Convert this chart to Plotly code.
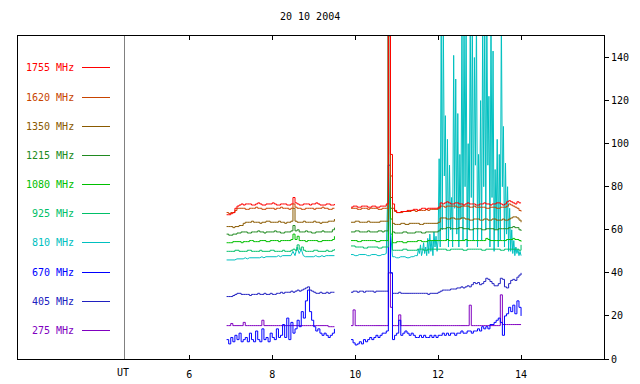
import plotly.graph_objects as go

# ---------------- data ----------------
TITLE = "20 10 2004"
X_TICKS = [6, 8, 10, 12, 14]
Y_TICKS = [0, 20, 40, 60, 80, 100, 120, 140]

def grid(a, b, step):
    n = int(round((b - a) / step))
    return [round(a + i * step, 3) for i in range(n + 1)]

T1 = grid(6.90, 9.50, 0.05)      # first observing block (UT hours)
T2 = grid(9.90, 14.00, 0.05)     # second observing block
T2_CYAN_A = T2[:32]              # 9.90 .. 11.45
T2_CYAN_B = grid(11.50, 14.00, 0.025)

labels = ["1755 MHz", "1620 MHz", "1350 MHz", "1215 MHz", "1080 MHz",
          "925 MHz", "810 MHz", "670 MHz", "405 MHz", "275 MHz"]
colors = ["#ff0000", "#c84400", "#8a5a00", "#208a20", "#00c000",
          "#00c068", "#00c0c0", "#0000ff", "#2020c0", "#8000c0"]

f1755_a = [67,67,67.5,68,70,71,71.5,72,71.5,72,
           72,72,71.5,71.5,72,72.5,72,71.5,71.5,72,
           72,72,72.5,72,71.5,71.5,72,72,72,71.5,
           71.5,72,75,72.5,72,71.5,71.5,72,72,72,
           71.5,72,72,72.5,72,71.5,71.5,71.5,72,72,
           71.5,71.5,72]
f1755_b = [70.5,71,71,70.5,70.5,71,71,71,70.5,70.5,
           71,71,70.5,70.5,71,71,71,72,
           300,95,
           72,69,68,68,68.5,68.5,68.5,69,69,69,
           69.5,69.5,69,69.5,70,70,69.5,70,70,70,
           70,70,70.5,
           72.5,72,72.5,73,72.5,72,72,
           72.5,72.5,72,72,71.5,72,72.5,72,72,72,
           71.5,71.5,72,72,72.5,72,72,71.5,72,72,
           72.5,72.5,72,71.5,72,73,73.5,73,72.5,72,
           73,72.5,72.5]

f1620_a = [68,67.5,68,68,69,70,70,70,70,69.5,
           69.5,70,70,70,70.5,70,70,69.5,69.5,70,
           70,70,70,69.5,70,70,70.5,70,70,70,
           69.5,70,72,70.5,70,70,69.5,69.5,70,70,
           70,70,69.5,70,70,70,70.5,70,70,69.5,
           69.5,70,70]
f1620_b = [70,70,70,69.5,69.5,70,70,70,69.5,70,
           70,70,70,69.5,69.5,70,70,70,
           300,85,
           70,68.5,68,68,68,68.5,68.5,68.5,68.5,69,
           69,68.5,69,69,69,69,69.5,69,69.5,69.5,
           69.5,69.5,70,
           71,71,70.5,71,71,71,71,
           71,70.5,70.5,71,71,71,71,70.5,70.5,71,
           70.5,70.5,70.5,70.5,70.5,70,70,70.5,70.5,70.5,
           70,70,70.5,70.5,70.5,71,72,71.5,71,70.5,
           70,69,68.5]

f1350_a = [61.5,61.5,61.5,61,61.5,61.5,62,62,63,63.5,
           63.5,63.5,64,63.5,63.5,63.5,63,63.5,63.5,64,
           64,63.5,63.5,63.5,63.5,64,63.5,63.5,63,63.5,
           63.5,64,70,64,63.5,63.5,63.5,64,63.5,63.5,
           63.5,63.5,64,63.5,63.5,63,63.5,63.5,63.5,64,
           64,64,65]
f1350_b = [63.5,63.5,64,64,63.5,63.5,63.5,63.5,64,63.5,
           63.5,63.5,63.5,63.5,64,64,64,64,
           300,75,
           63,62.5,62.5,62.5,63,63,62.5,62.5,63,63,
           63,63,63,62.5,62.5,63,63,63,63,63,
           63,63,63.5,
           65.5,65.5,65.5,65,65,65.5,65.5,
           65,65,65,65.5,65.5,65,65,64.5,64.5,65,
           65,65,64.5,64.5,65,65,64.5,64.5,65,65,
           64.5,64.5,64.5,65,64.5,64.5,65,65.5,66,66,
           65.5,64.5,63.5]

f1215_a = [58,57.5,57.5,58,58,58.5,58.5,59,59,59,
           58.5,58.5,59,59,59,59.5,59,59,58.5,59,
           59,59,59,59.5,59,59,58.5,58.5,59,59,
           59,59.5,62,59.5,60,59,59,59,59.5,59,
           59,58.5,58.5,59,59,59,59.5,59,59,59,
           59,60,61]
f1215_b = [59,59,59.5,59.5,59,59,59,59,59.5,59,
           59,59,59,59.5,59.5,59,59.5,59.5,
           300,70,
           59,58.5,58.5,58.5,58.5,59,59,58.5,58.5,58.5,
           58.5,59,59,59,58.5,58.5,59,59,59,59,
           59,59,59.5,
           60.5,60.5,60.5,61,61,60.5,60.5,
           60.5,60.5,61,61,60.5,60.5,60.5,60,60,60.5,
           60.5,60.5,60.5,60,60,60.5,60.5,60.5,60.5,60,
           60,60.5,60.5,60.5,60.5,60.5,61,61,61.5,61,
           61,60,59.5]

f1080_a = [54,54,54,54.5,54.5,54.5,54.5,54,54.5,54.5,
           54.5,55,55,54.5,54.5,54.5,55,55,55,54.5,
           54.5,55,55,55,55,54.5,55,55,55,55,
           55,55.5,58,55.5,57,55,55,55,54.5,55,
           55,55,55,55,54.5,54.5,55,55,55,55,
           55,55.5,57]
f1080_b = [55,55,55,54.5,54.5,55,55,55,55,55,
           55,55,54.5,54.5,55,55,55,55,
           250,65,
           54,54,54.5,54.5,54.5,54,54,54.5,54.5,54.5,
           54.5,54.5,55,55,54.5,54.5,54.5,55,55,55,
           55,55,55,
           55,55,55,55.5,55,55,55,
           55,55,55,55,55,55.5,55,55,55,55,
           55,55,55,55,55,56,55.5,55,55,55,
           55,55,55,55,55,55.5,55.5,55.5,56,55.5,
           55.5,55,54.5]

f925_a = [50,50,50,50,50.5,50.5,50,50,50,50,
          50.5,50.5,50,50,50,50,50.5,50,50,50,
          50,50.5,50.5,50,50,50,50,50.5,50,50,
          50,50.5,51,50.5,53,51,52,50.5,50,50,
          50,50,50.5,50.5,50,50,50,50,50.5,50,
          50,50.5,51]
f925_b = [52.5,52.5,52,52,52,52,51.5,51.5,52,52,
          52,52,52,51.5,51.5,52,52,52,
          150,58,
          50.5,50.5,50.5,50.5,50.5,51,51,50.5,50.5,50.5,
          50.5,50.5,51,51,51,50.5,50.5,51,51,51,
          51,51,51,
          51,51,51,50.5,50.5,51,51,
          51,51,51,51,50.5,50.5,51,51,51,51,
          51,51,51,50.5,50.5,51,51,51,51,51,
          51,51,50.5,50.5,51,51,51,51,51,51,
          51,50.5,53]

f810_a = [46,46,46,46,46,46.5,46.5,46.5,46.5,47,
          46.5,47,47,47,47,47,47,47.5,47,47.5,
          47.5,47.5,47.5,47.5,47.5,48,47.5,48,48,48,
          48,48,50,48,52,49,51,48,47.5,47.5,
          47.5,47.5,47.5,48,47.5,47.5,48,47.5,48,48,
          48,48,48]
f810_b1 = [48.5,48.5,48,48,48.5,48.5,48.5,48.5,48,48,
           48.5,48.5,48.5,48,48,48.5,48.5,49,
           90,60,
           47.5,47.5,47,47,47.5,47.5,47.5,47,47,47.5,
           47.5,48]
f810_b2 = [48,51,49,53,48,50,54,49,52,48,
           56,49,58,50,55,48,59,52,57,50,
           55,93,52,160,60,160,85,113,55,102,
           52,90,60,75,52,141,70,130,58,114,
           52,95,65,160,55,160,80,160,52,100,
           60,160,75,160,55,140,90,160,52,95,
           65,120,55,160,80,160,60,160,90,122,
           52,160,75,143,50,88,60,102,52,95,
           55,160,80,108,52,91,58,80,50,70,
           50,60,49,55,48,52,49,51,48,50,48]

f670_a = [9,7,10,8,11,9,12,8,9,10,
          8,12,9,8,13,9,8,14,9,10,
          8,12,10,9,14,10,11,16,10,19,
          9,17,12,14,18,15,22,19,27,32,
          22,18,15,13,14,12,11,12,11,10,
          11,12,14]
f670_b = [9,7.5,6.5,7,8,7,9,8,9,10,
          9,10,11,10,11,12,12,13,
          300,40,
          9,11,12,18,11,12,13,12,11,12,
          11,10,10,11,10,11,10,10,11,10,
          11,10,11,
          11,12,11,12,11,12,12,
          11,12,12,13,12,12,13,13,12,13,
          13,14,13,15,14,15,14,16,16,17,
          18,19,17,11,20,21,24,22,25,21,
          27,24,20]

f405_a = [29,29,29,29.5,30,30.5,30.5,30,30,30,
          30,29.5,30,30,30,30.5,30,30,30.5,30,
          30,30.5,30,30,30.5,30.5,31,30.5,31,31,
          31,31.5,31,31.5,32,31.5,32,32.5,33,33.5,
          32,31.5,31,30.5,30.5,31,30.5,30.5,31,30.5,
          31,31,31]
f405_b = [31,31.5,31.5,31,31.5,31.5,31,31.5,31.5,31.5,
          31.5,31,31.5,31.5,31.5,31.5,31.5,31.5,
          90,40,
          30.5,30.5,30.5,31,30.5,30.5,30.5,30.5,30.5,30.5,
          30.5,30.5,30.5,30.5,30.5,30.5,30.5,30,30.5,30.5,
          30.5,30.5,31,
          31.5,32,32,32,32,32.5,32.5,
          32.5,33,33,33.5,33,33.5,34,33.5,34.5,35.5,
          35,35.5,34.5,35,36,37.5,37,36,35,34,
          34,35,37.5,37,33.5,33,35,36.5,37,36.5,
          38,39,40]

f275_a = [15.5,15.5,16.5,15.5,15.5,15.5,15.5,15.5,17,15.5,
          15.5,15.5,15.5,15.5,15.5,15.5,15.5,18,15.5,15.5,
          15.5,15.5,15.5,15.5,15.5,15.5,15.5,15.5,15.5,15.5,
          15.5,15.5,15.5,15.5,15.5,15.5,15.5,15.5,15.5,15.5,
          15.5,15.5,15.5,15.5,15.5,15.5,15.5,15.5,15.5,15,
          15,15,15]
f275_b = [15.5,22.8,15.5,15.5,15.5,15.5,15.5,15.5,15.5,15.5,
          15.5,15.5,15.5,15.5,15.5,15.5,15.5,15.5,
          40,24,
          15.5,15.5,15.5,20.5,15.5,15.5,15.5,15.5,15.5,15.5,
          15.5,15.5,15.5,15.5,15.5,15.5,15.5,15.5,15.5,15.5,
          15.5,15.5,15.5,
          15.5,15.5,15.5,15.5,15.5,15.5,15.5,
          15.5,15.5,15.5,15.5,15.5,15.5,15.5,25,15.5,15.5,
          15.5,15.5,15.5,15.5,15.5,15.5,15.5,15.5,15.5,15.5,
          15.5,15.5,29.8,16,16,16,16,16,16,16,
          16,16,16]

series = {
    "1755 MHz": (T1, f1755_a, T2, f1755_b),
    "1620 MHz": (T1, f1620_a, T2, f1620_b),
    "1350 MHz": (T1, f1350_a, T2, f1350_b),
    "1215 MHz": (T1, f1215_a, T2, f1215_b),
    "1080 MHz": (T1, f1080_a, T2, f1080_b),
    "925 MHz": (T1, f925_a, T2, f925_b),
    "810 MHz": (T1, f810_a, T2_CYAN_A + T2_CYAN_B, f810_b1 + f810_b2),
    "670 MHz": (T1, f670_a, T2, f670_b),
    "405 MHz": (T1, f405_a, T2, f405_b),
    "275 MHz": (T1, f275_a, T2, f275_b),
}

# ---------------- figure ----------------
fig = go.Figure()
for name in reversed(labels):
    ta, va, tb, vb = series[name]
    n1, n2 = min(len(ta), len(va)), min(len(tb), len(vb))
    x = list(ta[:n1]) + [None] + list(tb[:n2])
    y = list(va[:n1]) + [None] + list(vb[:n2])
    shape = "linear" if name == "810 MHz" else "hv"
    fig.add_trace(go.Scatter(x=x, y=y, mode="lines", name=name,
                             line=dict(color=colors[labels.index(name)], width=1, shape=shape),
                             connectgaps=False, hoverinfo="skip"))

# page has an 8px body margin: figure is placed at (8, 8)
OFF = 8
W, H = 640 - OFF, 384 - OFF
L, R, T, B = 18 - OFF, 36, 36 - OFF, 25
pw, ph = W - L - R, H - T - B

def px(xp):
    return (xp - OFF - L) / pw

def py(yp):
    return (H - B - (yp - OFF)) / ph

ann = []
shapes = []
legend_rows = [67, 97, 126, 155, 184, 213, 242, 272, 301, 330]
for lab, col, row in zip(labels, colors, legend_rows):
    yy = py(row + 0.5)
    ann.append(dict(x=px(76), y=yy, xref="paper", yref="paper", text=lab,
                    showarrow=False, xanchor="right", yanchor="middle",
                    font=dict(color=col, size=10, family="DejaVu Sans Mono")))
    shapes.append(dict(type="line", xref="paper", yref="paper",
                       x0=px(82), x1=px(110), y0=yy, y1=yy,
                       line=dict(color=col, width=1)))
# divider between legend panel and data
shapes.append(dict(type="line", xref="paper", yref="paper", x0=px(124.5), x1=px(124.5),
                   y0=0, y1=1, line=dict(color="#808080", width=1)))
ann.append(dict(x=px(123), y=py(372), xref="paper", yref="paper", text="UT",
                showarrow=False, xanchor="center", yanchor="middle",
                font=dict(color="black", size=10, family="DejaVu Sans Mono")))
ann.append(dict(x=px(310), y=py(17), xref="paper", yref="paper", text=TITLE,
                showarrow=False, xanchor="center", yanchor="middle",
                font=dict(color="black", size=10, family="DejaVu Sans Mono")))

fig.update_layout(
    width=W, height=H, margin=dict(l=L, r=R, t=T, b=B, pad=0, autoexpand=False),
    paper_bgcolor="white", plot_bgcolor="white", showlegend=False,
    font=dict(family="DejaVu Sans Mono", size=10, color="black"),
    annotations=ann, shapes=shapes,
)
fig.update_xaxes(range=[1.87, 16.0], tickvals=X_TICKS, ticktext=[str(v) for v in X_TICKS],
                 ticks="inside", ticklen=4, tickcolor="black", showline=True,
                 linecolor="black", linewidth=1, mirror="ticks", showgrid=False,
                 zeroline=False, ticklabelstandoff=6, automargin=False)
fig.update_yaxes(range=[0, 150], tickvals=Y_TICKS, side="right", ticks="outside",
                 ticklen=4, tickcolor="black", showline=True, linecolor="black",
                 linewidth=1, mirror=True, showgrid=False, zeroline=False,
                 automargin=False)

fig.write_html("out.html")
